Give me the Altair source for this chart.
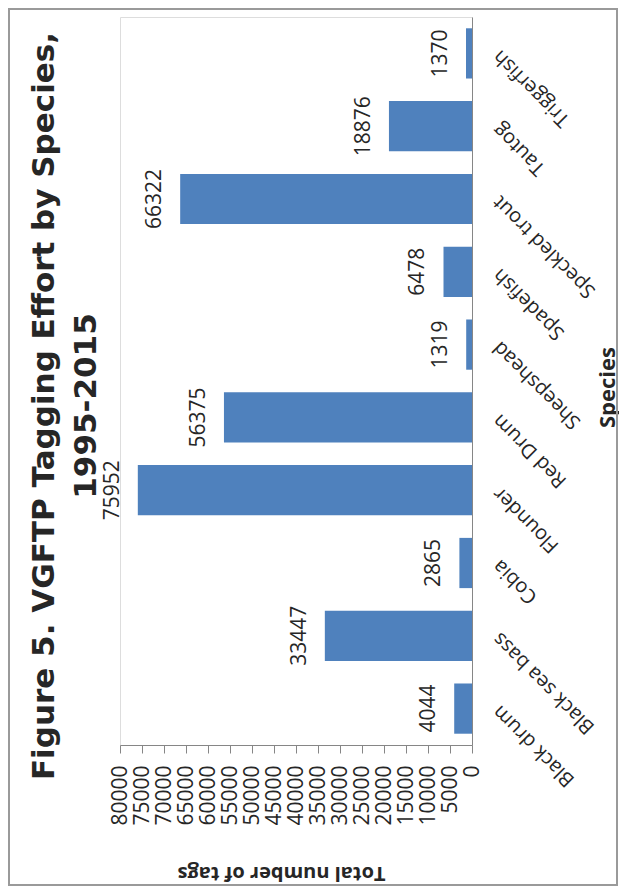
import altair as alt
import pandas as pd

# ---- data ----
species = ["Black drum", "Black sea bass", "Cobia", "Flounder", "Red Drum",
           "Sheepshead", "Spadefish", "Speckled trout", "Tautog", "Triggerfish"]
tags = [4044, 33447, 2865, 75952, 56375, 1319, 6478, 66322, 18876, 1370]
tick_values = [0, 5000, 10000, 15000, 20000, 25000, 30000, 35000, 40000,
               45000, 50000, 55000, 60000, 65000, 70000, 75000, 80000]
title_lines = ["Figure 5. VGFTP Tagging Effort by Species,", "1995-2015"]
x_title = "Total number of tags"
y_title = "Species"

df = pd.DataFrame({"Species": species, "Tags": tags})
frame_df = pd.DataFrame({"frame": [1]})

FONT = "Open Sans"
TEXT = "#262626"
AXIS = "#868686"
order = species[::-1]

x_scale = alt.Scale(domain=[0, 80000], reverse=True, nice=False)
y_scale = alt.Scale(paddingInner=0.31, paddingOuter=0.155)

x_axis = alt.Axis(
    orient="bottom", values=tick_values, grid=False, format="d",
    labelAngle=-90, labelAlign="right", labelBaseline="middle",
    labelFont=FONT, labelFontSize=21, labelColor=TEXT, labelPadding=12,
    labelOverlap=False, labelFlush=False,
    tickSize=8, tickColor=AXIS, domainColor=AXIS,
    title=x_title, titleAngle=180, titleX=161, titleY=127,
    titleAlign="center", titleBaseline="middle",
    titleFont=FONT, titleFontSize=20, titleFontWeight="bold", titleColor=TEXT,
)
y_axis = alt.Axis(
    orient="right", grid=False, ticks=False,
    labelAngle=225, labelAlign="right", labelBaseline="middle",
    labelFont=FONT, labelFontSize=20, labelColor=TEXT, labelPadding=24,
    domainColor=AXIS,
    title=y_title, titleAngle=270, titleX=135, titleY=370,
    titleAlign="center", titleBaseline="middle",
    titleFont=FONT, titleFontSize=22, titleFontWeight="bold", titleColor=TEXT,
)

bars = alt.Chart(df).mark_bar(color="#4F81BD").encode(
    x=alt.X("Tags:Q", scale=x_scale, axis=x_axis),
    y=alt.Y("Species:N", sort=order, scale=y_scale, axis=y_axis),
)

labels = bars.mark_text(
    angle=270, align="center", baseline="alphabetic", dy=-19,
    font=FONT, fontSize=21, color=TEXT,
).encode(
    text=alt.Text("Tags:Q", format="d"),
)

frame = alt.Chart(frame_df).mark_rect(
    fillOpacity=0, stroke="#9a9a9a", strokeWidth=2,
).encode(
    x=alt.value(-111), x2=alt.value(497),
    y=alt.value(-8), y2=alt.value(868),
)

chart = alt.layer(frame, bars, labels).properties(
    width=352, height=728,
    title=alt.TitleParams(
        text=title_lines, orient="left", anchor="middle", frame="group",
        offset=-95, dx=-25,
        font="DejaVu Sans", fontSize=31, fontWeight="bold", color=TEXT, lineHeight=42,
    ),
    autosize=alt.AutoSizeParams(type="none"),
    padding={"left": 112, "top": 9, "right": 147, "bottom": 142},
).configure_view(strokeWidth=0, stroke="transparent").configure(background="white")

chart.save("out.html", embed_options={"renderer": "svg", "actions": False})
